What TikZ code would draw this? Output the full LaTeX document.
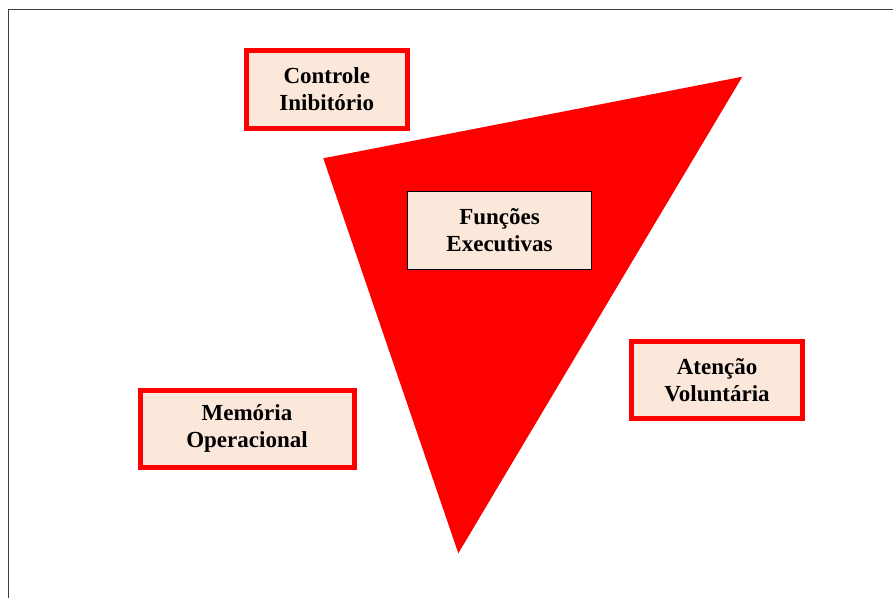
\documentclass[tikz,border=0pt]{standalone}
\usepackage{fontspec}
\setmainfont{Liberation Serif}
\definecolor{peach}{HTML}{FCE8DA}
\definecolor{pured}{HTML}{FF0000}
\definecolor{framegray}{HTML}{404040}
\begin{document}
\begin{tikzpicture}[x=1pt,y=-1pt,
  lbl/.style={font=\fontsize{23}{27}\selectfont\bfseries, align=center, inner sep=0pt, fill=peach},
  redbox/.style={lbl, draw=pured, line width=5pt},
  blackbox/.style={lbl, draw=black, line width=1pt}]
\useasboundingbox (0,0) rectangle (893,598);
\fill[white] (0,0) rectangle (893,598);
\draw[framegray, line width=1.5pt] (8.5,598) -- (8.5,9.5) -- (893,9.5);
\coordinate (tl) at (323.3,158.3);
\coordinate (tr) at (742.3,76.7);
\coordinate (tb) at (458.3,553.3);
\fill[pured] (tl) -- (tr) -- (tb) -- cycle;
\node[redbox, minimum width=161.5pt, minimum height=78pt] (ci) at (326.75,89) {Controle\\Inibitório};
\node[blackbox, minimum width=184pt, minimum height=78pt] (fe) at (499.5,230) {Funções\\Executivas};
\node[redbox, minimum width=171pt, minimum height=76.5pt] (av) at (717,379.75) {Atenção\\Voluntária};
\node[redbox, minimum width=214pt, minimum height=77.5pt] (mo) at (247,428.75) {Memória\\Operacional};
\end{tikzpicture}
\end{document}
